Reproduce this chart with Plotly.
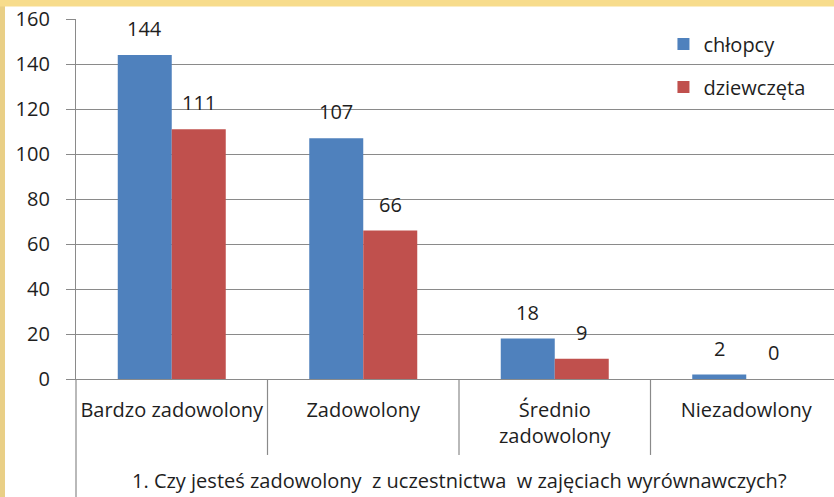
import plotly.graph_objects as go

categories = ["Bardzo zadowolony", "Zadowolony", "Średnio<br>zadowolony", "Niezadowlony"]
chlopcy = [144, 107, 18, 2]
dziewczeta = [111, 66, 9, 0]
series_names = ["chłopcy", "dziewczęta"]
y_ticks = [0, 20, 40, 60, 80, 100, 120, 140, 160]
group_title = "1. Czy jesteś zadowolony  z uczestnictwa  w zajęciach wyrównawczych?"

FONT = "Open Sans"
FS = 20
TXT = "#1e1e1e"
GRID = "#8a8a8a"
BLUE = "#4F81BD"
RED = "#C0504D"

x_idx = list(range(len(categories)))

fig = go.Figure()
fig.add_trace(go.Bar(x=x_idx, y=chlopcy, name=series_names[0], marker=dict(color=BLUE, line=dict(width=0)),
                     legendgroup="a"))
fig.add_trace(go.Bar(x=x_idx, y=dziewczeta, name=series_names[1], marker=dict(color=RED, line=dict(width=0)),
                     legendgroup="b"))

annotations = []
for vals, shift in ((chlopcy, -27), (dziewczeta, 27)):
    for i, v in enumerate(vals):
        annotations.append(dict(x=i, y=v, xref="x", yref="y", text=str(v), showarrow=False,
                                xshift=shift, yshift=11, yanchor="bottom",
                                font=dict(family=FONT, size=FS, color=TXT)))
annotations.append(dict(x=1.5, y=-0.283, xref="x", yref="paper", text=group_title, showarrow=False,
                        yanchor="middle", font=dict(family=FONT, size=FS, color=TXT)))

shapes = []
for b in (0.5, 1.5, 2.5):
    shapes.append(dict(type="line", xref="x", yref="paper", x0=b, x1=b, y0=0, y1=-0.211,
                       line=dict(color=GRID, width=1.2)))
shapes.append(dict(type="line", xref="paper", yref="paper", x0=0, x1=0, y0=0, y1=-0.33,
                   line=dict(color=GRID, width=1.2)))
# decorative background strips
shapes.append(dict(type="rect", xref="paper", yref="paper", x0=-76/758, x1=-71/758, y0=-0.33, y1=1.06,
                   fillcolor="#e9cf86", line=dict(width=0), layer="below"))
shapes.append(dict(type="rect", xref="paper", yref="paper", x0=-76/758, x1=1, y0=1.035, y1=1.06,
                   fillcolor="#f7dc8c", line=dict(width=0), layer="below"))

fig.update_layout(
    width=834, height=497,
    margin=dict(l=76, r=0, t=19, b=118),
    paper_bgcolor="white", plot_bgcolor="white",
    barmode="group", bargap=0.436, bargroupgap=0,
    font=dict(family=FONT, size=FS, color=TXT),
    showlegend=True,
    legend=dict(x=0.775, y=0.985, xanchor="left", yanchor="top", traceorder="grouped",
                tracegroupgap=14, font=dict(family=FONT, size=FS, color=TXT),
                bgcolor="rgba(0,0,0,0)"),
    xaxis=dict(type="linear", range=[-0.5, -0.5 + 758/191.5], tickmode="array", tickvals=x_idx,
               ticktext=categories, showgrid=False, zeroline=False, showline=True,
               linecolor=GRID, linewidth=1.2, ticks="", ticklabelstandoff=13,
               tickfont=dict(family=FONT, size=FS, color=TXT)),
    yaxis=dict(range=[0, 160], tickmode="array", tickvals=y_ticks, showgrid=True, gridcolor=GRID,
               gridwidth=1.2, zeroline=False, showline=True, linecolor=GRID, linewidth=1.2,
               ticks="outside", ticklen=9, tickcolor=GRID, tickwidth=1.2, ticklabelstandoff=12,
               tickfont=dict(family=FONT, size=FS, color=TXT)),
    annotations=annotations, shapes=shapes,
)

fig.write_html("out.html", config={"displayModeBar": False},
               post_script="document.body.style.margin='0';")
